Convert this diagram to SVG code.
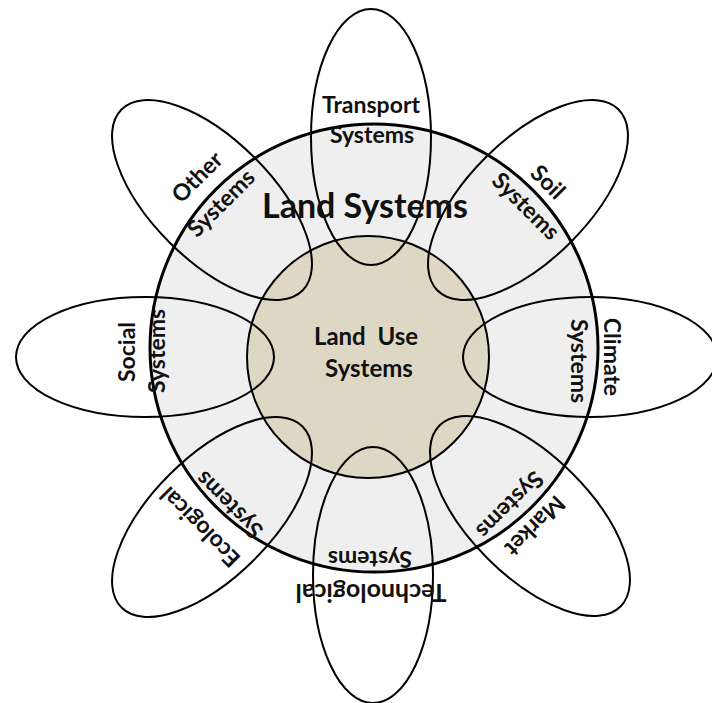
<svg xmlns="http://www.w3.org/2000/svg" width="712" height="703" viewBox="0 0 712 703">
<style>
.petal{fill:none;stroke:#000;stroke-width:2}
.lbl{font-family:Lato,"Open Sans","Liberation Sans",sans-serif;font-weight:bold;font-size:23px;fill:#111;text-anchor:middle}
</style>
<rect width="712" height="703" fill="#fff"/>
<g id="land-systems">
<circle cx="374" cy="348" r="224" fill="#efefef" stroke="#000" stroke-width="3"/>
</g>
<g id="land-use-systems">
<circle cx="368" cy="357" r="121" fill="#ddd7c3" stroke="#000" stroke-width="2"/>
</g>
<g id="petals">
<g id="transport"><ellipse class="petal" cx="371" cy="137" rx="60" ry="128"/></g>
<g id="soil"><ellipse class="petal" cx="0" cy="0" rx="60" ry="128" transform="translate(528,200) rotate(45)"/></g>
<g id="climate"><ellipse class="petal" cx="590" cy="357" rx="127" ry="60"/></g>
<g id="market"><ellipse class="petal" cx="0" cy="0" rx="60" ry="128" transform="translate(530,516) rotate(-45)"/></g>
<g id="technological"><ellipse class="petal" cx="373" cy="575" rx="60" ry="128"/></g>
<g id="ecological"><ellipse class="petal" cx="0" cy="0" rx="60" ry="128" transform="translate(212,517) rotate(45)"/></g>
<g id="social"><ellipse class="petal" cx="145" cy="357" rx="129" ry="60"/></g>
<g id="other"><ellipse class="petal" cx="0" cy="0" rx="60" ry="128" transform="translate(212,200) rotate(-45)"/></g>
</g>
<g id="labels">
<text class="lbl" x="371" y="113">Transport</text>
<text class="lbl" x="372" y="143">Systems</text>
<text class="lbl" x="365" y="218" style="font-size:34px">Land Systems</text>
<text class="lbl" x="366" y="345" style="font-size:24px" xml:space="preserve">Land  Use</text>
<text class="lbl" x="369" y="377" style="font-size:24px">Systems</text>
<text class="lbl" transform="translate(127,352) rotate(-90)" dy="0.35em">Social</text>
<text class="lbl" transform="translate(157,351) rotate(-90)" dy="0.35em">Systems</text>
<text class="lbl" transform="translate(612,357) rotate(90)" dy="0.35em">Climate</text>
<text class="lbl" transform="translate(579,361) rotate(90)" dy="0.35em">Systems</text>
<text class="lbl" transform="translate(370,559) rotate(180)" dy="0.35em">Systems</text>
<text class="lbl" transform="translate(371,593) rotate(180)" dy="0.35em" style="font-size:25px">Technological</text>
<text class="lbl" transform="translate(197,177) rotate(-45)" dy="0.35em">Other</text>
<text class="lbl" transform="translate(221,203) rotate(-45)" dy="0.35em">Systems</text>
<text class="lbl" transform="translate(548,182) rotate(45)" dy="0.35em">Soil</text>
<text class="lbl" transform="translate(526,206) rotate(45)" dy="0.35em">Systems</text>
<text class="lbl" transform="translate(200,527) rotate(-135)" dy="0.35em">Ecological</text>
<text class="lbl" transform="translate(229,505) rotate(-135)" dy="0.35em">Systems</text>
<text class="lbl" transform="translate(535,526) rotate(135)" dy="0.35em">Market</text>
<text class="lbl" transform="translate(510,505) rotate(135)" dy="0.35em">Systems</text>
</g>
</svg>
